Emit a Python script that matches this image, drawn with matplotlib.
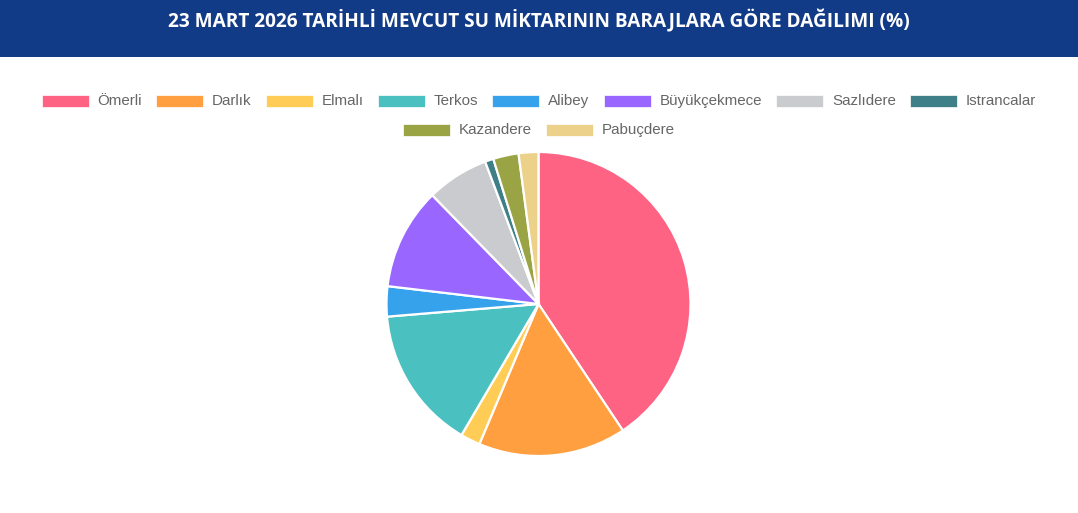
import matplotlib
matplotlib.use("Agg")
import matplotlib.pyplot as plt
from matplotlib.patches import Rectangle

title = "23 MART 2026 TARİHLİ MEVCUT SU MİKTARININ BARAJLARA GÖRE DAĞILIMI (%)"
labels = ["Ömerli", "Darlık", "Elmalı", "Terkos", "Alibey", "Büyükçekmece",
          "Sazlıdere", "Istrancalar", "Kazandere", "Pabuçdere"]
values = [40.6, 15.7, 2.1, 15.2, 3.2, 10.8, 6.6, 0.9, 2.7, 2.1]
colors = ["#FF6384", "#FF9F40", "#FFCD56", "#4BC0C0", "#36A2EB", "#9966FF",
          "#C9CBCF", "#3F7F88", "#9AA444", "#EBD18A"]

W, H = 1078, 513
fig = plt.figure(figsize=(W / 100, H / 100), dpi=100)
fig.patch.set_facecolor("white")

# header band
fig.patches.append(Rectangle((0, 1 - 57 / H), 1, 57 / H, transform=fig.transFigure,
                             facecolor="#113A87", edgecolor="none", zorder=0))
fig.text(0.5, 1 - 21 / H, title, ha="center", va="center", color="white",
         fontsize=13.7, fontweight="bold", family=["Open Sans", "DejaVu Sans"])

# pie
cx, cy, r = 538.5, 304, 152
half = 160
ax = fig.add_axes([(cx - half) / W, (H - cy - half) / H, 2 * half / W, 2 * half / H])
ax.pie(values, colors=colors, startangle=90, counterclock=False, radius=r / half,
       wedgeprops=dict(edgecolor="white", linewidth=1.6))
ax.set_xlim(-1, 1)
ax.set_ylim(-1, 1)
ax.set_aspect("equal")
ax.axis("off")

# legend (manual, centered rows)
fig.canvas.draw()
renderer = fig.canvas.get_renderer()
fs = 10.9
fam = ["Liberation Sans", "DejaVu Sans"]
box_w, box_h, gap_t, gap_i = 47, 12, 9, 14
rows = [(labels[:8], colors[:8], 101), (labels[8:], colors[8:], 130)]
for labs, cols, ypix in rows:
    widths = []
    for lab in labs:
        t = fig.text(0, 0, lab, fontsize=fs, family=fam)
        bb = t.get_window_extent(renderer)
        widths.append(bb.width)
        t.remove()
    total = sum(box_w + gap_t + w for w in widths) + gap_i * (len(labs) - 1)
    x = (W - total) / 2
    for lab, col, w in zip(labs, cols, widths):
        fig.patches.append(Rectangle((x / W, (H - ypix - box_h / 2) / H), box_w / W, box_h / H,
                                     transform=fig.transFigure, facecolor=col,
                                     edgecolor="white", linewidth=0.5))
        fig.text((x + box_w + gap_t) / W, (H - ypix) / H, lab, fontsize=fs, family=fam,
                 color="#666666", ha="left", va="center")
        x += box_w + gap_t + w + gap_i

fig.savefig("out.png", dpi=100, facecolor="white")
